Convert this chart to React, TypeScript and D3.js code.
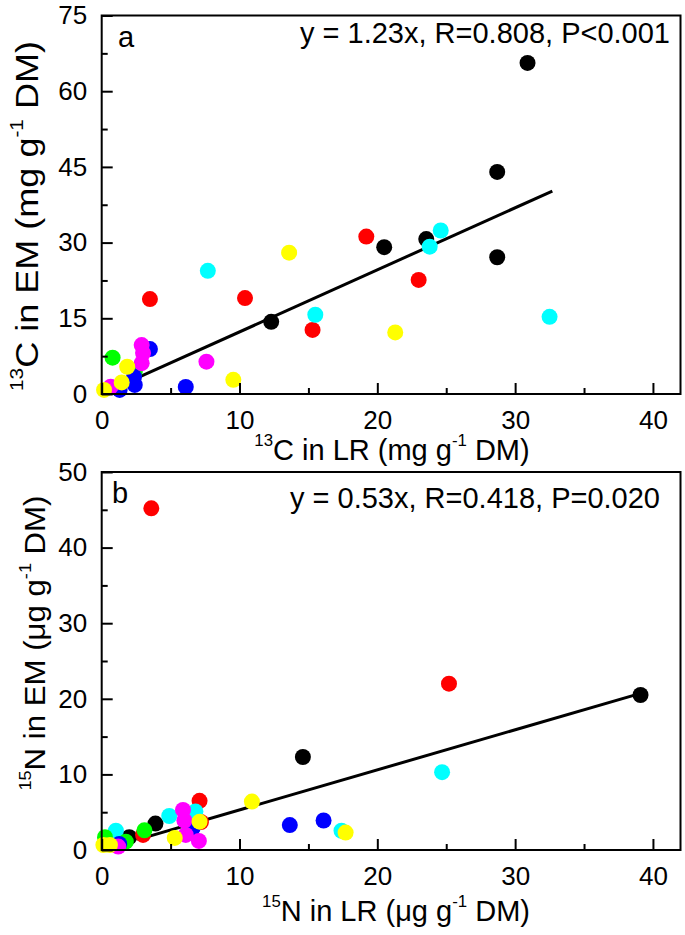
import { useEffect, useRef } from "react";
import * as d3 from "d3";

type Pt = [number, number];

const COLORS = {
  black: "#000000",
  red: "#ff0000",
  cyan: "#00ffff",
  green: "#00ff00",
  blue: "#0000ff",
  magenta: "#ff00ff",
  yellow: "#ffff00",
};

// ---- panel a: 13C, LR (x) vs EM (y), mg g-1 DM ----
const A_BLACK: Pt[] = [[30.9, 65.6], [28.7, 44.0], [28.7, 27.1], [23.55, 30.7], [20.5, 29.1], [12.3, 14.3]];
const A_RED: Pt[] = [[19.2, 31.2], [23.0, 22.6], [15.3, 12.7], [10.4, 19.0], [3.5, 18.8]];
const A_CYAN: Pt[] = [[24.6, 32.4], [23.8, 29.2], [32.5, 15.3], [15.5, 15.7], [7.7, 24.4]];
const A_GREEN: Pt[] = [[0.79, 7.2], [2.4, 4.4]];
const A_BLUE: Pt[] = [[6.1, 1.4], [3.5, 8.9], [2.35, 3.4], [2.4, 1.8], [1.3, 0.8]];
const A_MAGENTA: Pt[] = [[7.6, 6.4], [2.9, 9.7], [3.0, 8.1], [2.9, 6.1], [0.65, 1.45]];
const A_YELLOW: Pt[] = [[13.6, 28.0], [21.3, 12.2], [9.55, 2.8], [1.85, 5.4], [1.45, 2.3], [0.17, 0.8]];

// ---- panel b: 15N, LR (x) vs EM (y), µg g-1 DM ----
const B_BLACK: Pt[] = [[39.1, 20.5], [14.6, 12.3], [3.9, 3.5], [2.0, 1.7]];
const B_RED: Pt[] = [[3.6, 45.2], [25.2, 22.0], [7.1, 6.5], [7.2, 3.7], [3.0, 2.0]];
const B_CYAN: Pt[] = [[24.7, 10.3], [17.4, 2.55], [4.9, 4.5], [6.8, 5.1], [1.03, 2.55]];
const B_GREEN: Pt[] = [[3.1, 2.6], [1.75, 1.1], [0.24, 1.7]];
const B_BLUE: Pt[] = [[13.65, 3.3], [16.1, 3.9], [6.6, 2.9], [1.27, 0.8]];
const B_MAGENTA: Pt[] = [[5.9, 5.3], [6.0, 3.9], [6.1, 2.0], [7.05, 1.2], [1.2, 0.45]];
const B_YELLOW: Pt[] = [[10.9, 6.4], [17.7, 2.3], [7.1, 3.75], [5.3, 1.6], [0.6, 0.66], [0.12, 0.66]];

const X_TICKS = [0, 10, 20, 30, 40];
const X_MINOR = [5, 15, 25, 35];
const A_Y_TICKS = [0, 15, 30, 45, 60, 75];
const A_Y_MINOR = [7.5, 22.5, 37.5, 52.5, 67.5];
const B_Y_TICKS = [0, 10, 20, 30, 40, 50];
const B_Y_MINOR = [5, 15, 25, 35, 45];

const A_FIT = { slope: 1.23, from: 2.7, to: 32.7 };
const B_FIT = { slope: 0.53, from: 2.6, to: 39.1 };

const FONT = "'Liberation Sans', Arial, Helvetica, sans-serif";
const W = 685;
const H = 935;
const LEFT = 101.7;
const RIGHT = 680.5;

type Part = { t: string; sup?: boolean };

function richText(
  sel: d3.Selection<SVGTextElement, unknown, null, undefined>,
  parts: Part[],
  size: number
) {
  let raised = false;
  const lift = size * 0.48;
  parts.forEach((p) => {
    const ts = sel.append("tspan").text(p.t);
    if (p.sup) {
      ts.attr("font-size", size * 0.58);
      if (!raised) ts.attr("dy", -lift);
      raised = true;
    } else {
      if (raised) ts.attr("dy", lift);
      raised = false;
    }
  });
}

interface PanelCfg {
  top: number;
  bottom: number;
  yMax: number;
  yTicks: number[];
  yMinor: number[];
  series: [string, Pt[]][];
  fit: { slope: number; from: number; to: number };
  letter: string;
  letterPos: [number, number];
  eq: string;
  eqPos: [number, number];
  xTitle: Part[];
  xTitlePos: [number, number];
  yTitle: Part[];
  yTitlePos: [number, number];
  yTitleSize: number;
  yTitleLength: number;
  xLabelBaseline: number;
}

function drawPanel(root: d3.Selection<SVGGElement, unknown, null, undefined>, cfg: PanelCfg) {
  const x = d3.scaleLinear().domain([0, 42]).range([LEFT, RIGHT]);
  const y = d3.scaleLinear().domain([0, cfg.yMax]).range([cfg.bottom, cfg.top]);
  const g = root.append("g");

  // fit line
  g.append("line")
    .attr("x1", x(cfg.fit.from))
    .attr("y1", y(cfg.fit.from * cfg.fit.slope))
    .attr("x2", x(cfg.fit.to))
    .attr("y2", y(cfg.fit.to * cfg.fit.slope))
    .attr("stroke", "#000")
    .attr("stroke-width", 3);

  // points
  cfg.series.forEach(([color, pts]) => {
    g.append("g")
      .selectAll("circle")
      .data(pts)
      .join("circle")
      .attr("cx", (d) => x(d[0]))
      .attr("cy", (d) => y(d[1]))
      .attr("r", 8)
      .attr("fill", color);
  });

  // axes (inward ticks)
  const xAxis = g.append("g").attr("transform", `translate(0,${cfg.bottom})`);
  xAxis.call(
    d3.axisBottom(x).tickValues(X_TICKS).tickSizeInner(-11).tickSizeOuter(0)
      .tickPadding(cfg.xLabelBaseline - cfg.bottom - 18.5)
      .tickFormat((d) => String(d))
  );
  const xMinor = g.append("g").attr("transform", `translate(0,${cfg.bottom})`);
  xMinor.call(d3.axisBottom(x).tickValues(X_MINOR).tickSizeInner(-6).tickSizeOuter(0).tickFormat(() => ""));

  const yAxis = g.append("g").attr("transform", `translate(${LEFT},0)`);
  yAxis.call(
    d3.axisLeft(y).tickValues(cfg.yTicks).tickSizeInner(-11).tickSizeOuter(0)
      .tickPadding(14.5)
      .tickFormat((d) => String(d))
  );
  const yMinor = g.append("g").attr("transform", `translate(${LEFT},0)`);
  yMinor.call(d3.axisLeft(y).tickValues(cfg.yMinor).tickSizeInner(-6).tickSizeOuter(0).tickFormat(() => ""));

  [xAxis, xMinor, yAxis, yMinor].forEach((a) => {
    a.select(".domain").remove();
    a.selectAll("line").attr("stroke", "#000").attr("stroke-width", 2);
    a.selectAll("text")
      .attr("fill", "#000")
      .attr("font-size", 26)
      .attr("font-family", FONT);
  });

  // frame
  g.append("rect")
    .attr("x", LEFT)
    .attr("y", cfg.top)
    .attr("width", RIGHT - LEFT)
    .attr("height", cfg.bottom - cfg.top)
    .attr("fill", "none")
    .attr("stroke", "#000")
    .attr("stroke-width", 2);

  // labels
  g.append("text")
    .attr("x", cfg.letterPos[0])
    .attr("y", cfg.letterPos[1])
    .attr("font-size", 29)
    .attr("font-family", FONT)
    .text(cfg.letter);

  g.append("text")
    .attr("x", cfg.eqPos[0])
    .attr("y", cfg.eqPos[1])
    .attr("text-anchor", "end")
    .attr("font-size", 29)
    .attr("font-family", FONT)
    .text(cfg.eq);

  const xt = g.append("text")
    .attr("x", cfg.xTitlePos[0])
    .attr("y", cfg.xTitlePos[1])
    .attr("text-anchor", "middle")
    .attr("font-size", 29)
    .attr("font-family", FONT);
  richText(xt, cfg.xTitle, 29);

  const yt = g.append("text")
    .attr("transform", `translate(${cfg.yTitlePos[0]},${cfg.yTitlePos[1]}) rotate(-90)`)
    .attr("text-anchor", "middle")
    .attr("font-size", cfg.yTitleSize)
    .attr("font-family", FONT)
    .attr("textLength", cfg.yTitleLength)
    .attr("lengthAdjust", "spacingAndGlyphs");
  richText(yt, cfg.yTitle, cfg.yTitleSize);
}

export default function App() {
  const svgRef = useRef<SVGSVGElement>(null);

  useEffect(() => {
    if (!svgRef.current) return;
    const svg = d3.select(svgRef.current);
    svg.selectAll("*").remove();
    const root = svg.append("g");

    drawPanel(root, {
      top: 15.5,
      bottom: 394,
      yMax: 75,
      yTicks: A_Y_TICKS,
      yMinor: A_Y_MINOR,
      series: [
        [COLORS.black, A_BLACK],
        [COLORS.red, A_RED],
        [COLORS.cyan, A_CYAN],
        [COLORS.green, A_GREEN],
        [COLORS.blue, A_BLUE],
        [COLORS.magenta, A_MAGENTA],
        [COLORS.yellow, A_YELLOW],
      ],
      fit: A_FIT,
      letter: "a",
      letterPos: [118, 47],
      eq: "y = 1.23x, R=0.808, P<0.001",
      eqPos: [670, 43],
      xTitle: [{ t: "13", sup: true }, { t: "C in LR (mg g" }, { t: "-1", sup: true }, { t: " DM)" }],
      xTitlePos: [392, 460],
      yTitle: [{ t: "13", sup: true }, { t: "C in EM (mg g" }, { t: "-1", sup: true }, { t: " DM)" }],
      yTitlePos: [38, 216],
      yTitleSize: 32,
      yTitleLength: 350,
      xLabelBaseline: 429,
    });

    drawPanel(root, {
      top: 472,
      bottom: 850,
      yMax: 50,
      yTicks: B_Y_TICKS,
      yMinor: B_Y_MINOR,
      series: [
        [COLORS.black, B_BLACK],
        [COLORS.red, B_RED],
        [COLORS.cyan, B_CYAN],
        [COLORS.green, B_GREEN],
        [COLORS.blue, B_BLUE],
        [COLORS.magenta, B_MAGENTA],
        [COLORS.yellow, B_YELLOW],
      ],
      fit: B_FIT,
      letter: "b",
      letterPos: [112, 503],
      eq: "y = 0.53x, R=0.418, P=0.020",
      eqPos: [660, 508],
      xTitle: [{ t: "15", sup: true }, { t: "N in LR (μg g" }, { t: "-1", sup: true }, { t: " DM)" }],
      xTitlePos: [396, 921],
      yTitle: [{ t: "15", sup: true }, { t: "N in EM (μg g" }, { t: "-1", sup: true }, { t: " DM)" }],
      yTitlePos: [45, 643],
      yTitleSize: 30,
      yTitleLength: 295,
      xLabelBaseline: 885,
    });
  }, []);

  return (
    <div style={{ position: "absolute", left: 0, top: 0 }}>
      <svg ref={svgRef} width={W} height={H} style={{ display: "block", background: "#fff" }} />
    </div>
  );
}
